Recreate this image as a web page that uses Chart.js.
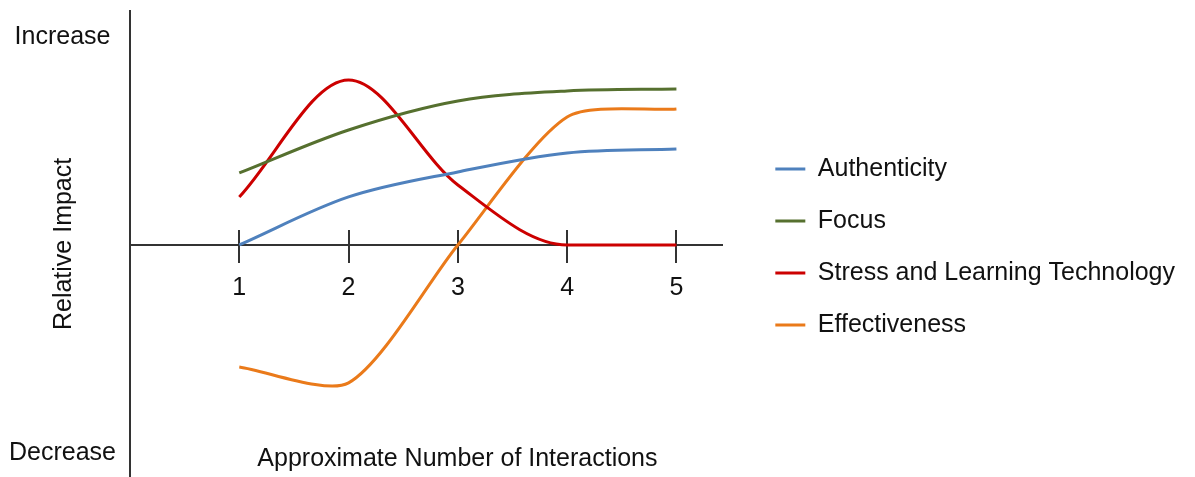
<!DOCTYPE html>
<html lang="en">
<head>
    <meta charset="UTF-8">
    <title>Relative Impact</title>
    <script src="https://cdn.jsdelivr.net/npm/chart.js"></script>
    <style>
        body { margin: 0; background: #fff; }
        .grafico { width: 1195px; height: 477px; }
    </style>
</head>
<body>
    <div class="grafico">
        <canvas id="graficoImpacto"></canvas>
    </div>
<script>

// dados (0 = linha do eixo x)
const interacoes = [1, 2, 3, 4, 5];
const autenticidade = [0, 48, 73, 92, 96];
const foco = [72, 115, 144, 154, 156];
const estresse = [48, 165, 60, 0, 0];
const efetividade = [-122, -138, 0, 128, 136];

const nomesSeries = ['Authenticity', 'Focus', 'Stress and Learning Technology', 'Effectiveness'];
const coresSeries = ['#4F81BD', '#56702F', '#CC0000', '#EA7A1A'];

const yTickValores = [-208, 208];
const yTickTextos = ['Decrease', 'Increase'];

const tituloX = 'Approximate Number of Interactions';
const tituloY = 'Relative Impact';

Chart.defaults.font.family = "'Liberation Sans', Arial, sans-serif";
Chart.defaults.color = '#111';

function pontos(valores) {
    return interacoes.map((x, i) => ({ x: x, y: valores[i] }));
}

const series = [autenticidade, foco, estresse, efetividade];
const datasets = series.map((valores, i) => ({
    label: nomesSeries[i],
    data: pontos(valores),
    borderColor: coresSeries[i],
    backgroundColor: coresSeries[i],
    borderWidth: 3,
    pointRadius: 0,
    fill: false,
    cubicInterpolationMode: 'monotone'
}));

// a curva laranja fica mais parecida com a suavizacao normal
datasets[3].cubicInterpolationMode = 'default';
datasets[3].tension = 0.25;

const config = {
    type: 'line',
    data: { datasets: datasets },
    options: {
        responsive: true,
        maintainAspectRatio: false,
        animation: false,
        layout: { padding: { top: 11, right: 10, left: 0, bottom: -6 } },
        plugins: {
            tooltip: { enabled: false },
            legend: {
                position: 'right',
                maxWidth: 460,
                labels: {
                    font: { size: 25 },
                    usePointStyle: true,
                    pointStyle: 'line',
                    pointStyleWidth: 30,
                    padding: 27
                }
            }
        },
        scales: {
            x: {
                type: 'linear',
                position: { y: 0 },
                min: 0,
                max: 5.42,
                afterBuildTicks: (scale) => { scale.ticks = interacoes.map(v => ({ value: v })); },
                border: { color: '#333', width: 2 },
                grid: { drawOnChartArea: false, color: '#333', lineWidth: 2, tickLength: 17 },
                ticks: { font: { size: 25 }, padding: 11 },
                title: {
                    display: true,
                    text: '         ' + tituloX,
                    font: { size: 25 },
                    padding: { top: 130, bottom: -100 }
                }
            },
            // so para as marcas acima do eixo
            xTopo: {
                type: 'linear',
                position: { y: 0 },
                min: 0,
                max: 5.42,
                afterBuildTicks: (scale) => { scale.ticks = interacoes.map(v => ({ value: v })); },
                border: { display: false },
                grid: { drawOnChartArea: false, color: '#333', lineWidth: 2, tickLength: -15 },
                ticks: { display: false }
            },
            y: {
                type: 'linear',
                position: 'left',
                min: -232,
                max: 234,
                afterBuildTicks: (scale) => { scale.ticks = yTickValores.map(v => ({ value: v })); },
                afterFit: (scale) => { scale.width = 130; },
                border: { color: '#333', width: 2 },
                grid: { drawOnChartArea: false, color: 'rgba(0,0,0,0)', tickLength: 14 },
                ticks: {
                    font: { size: 25, lineHeight: 0.01 },
                    padding: 0,
                    crossAlign: 'center',
                    callback: (valor, indice) => yTickTextos[indice]
                },
                title: {
                    display: true,
                    text: tituloY,
                    font: { size: 25 },
                    padding: { top: 49, bottom: 0 }
                }
            },
            // espaco entre o grafico e a legenda
            yEspaco: {
                type: 'linear',
                position: 'right',
                display: true,
                afterFit: (scale) => { scale.width = 26; },
                border: { display: false },
                grid: { display: false },
                ticks: { display: false }
            }
        }
    }
};

let graficoImpacto = new Chart(document.getElementById('graficoImpacto'), config);

</script>
</body>
</html>
